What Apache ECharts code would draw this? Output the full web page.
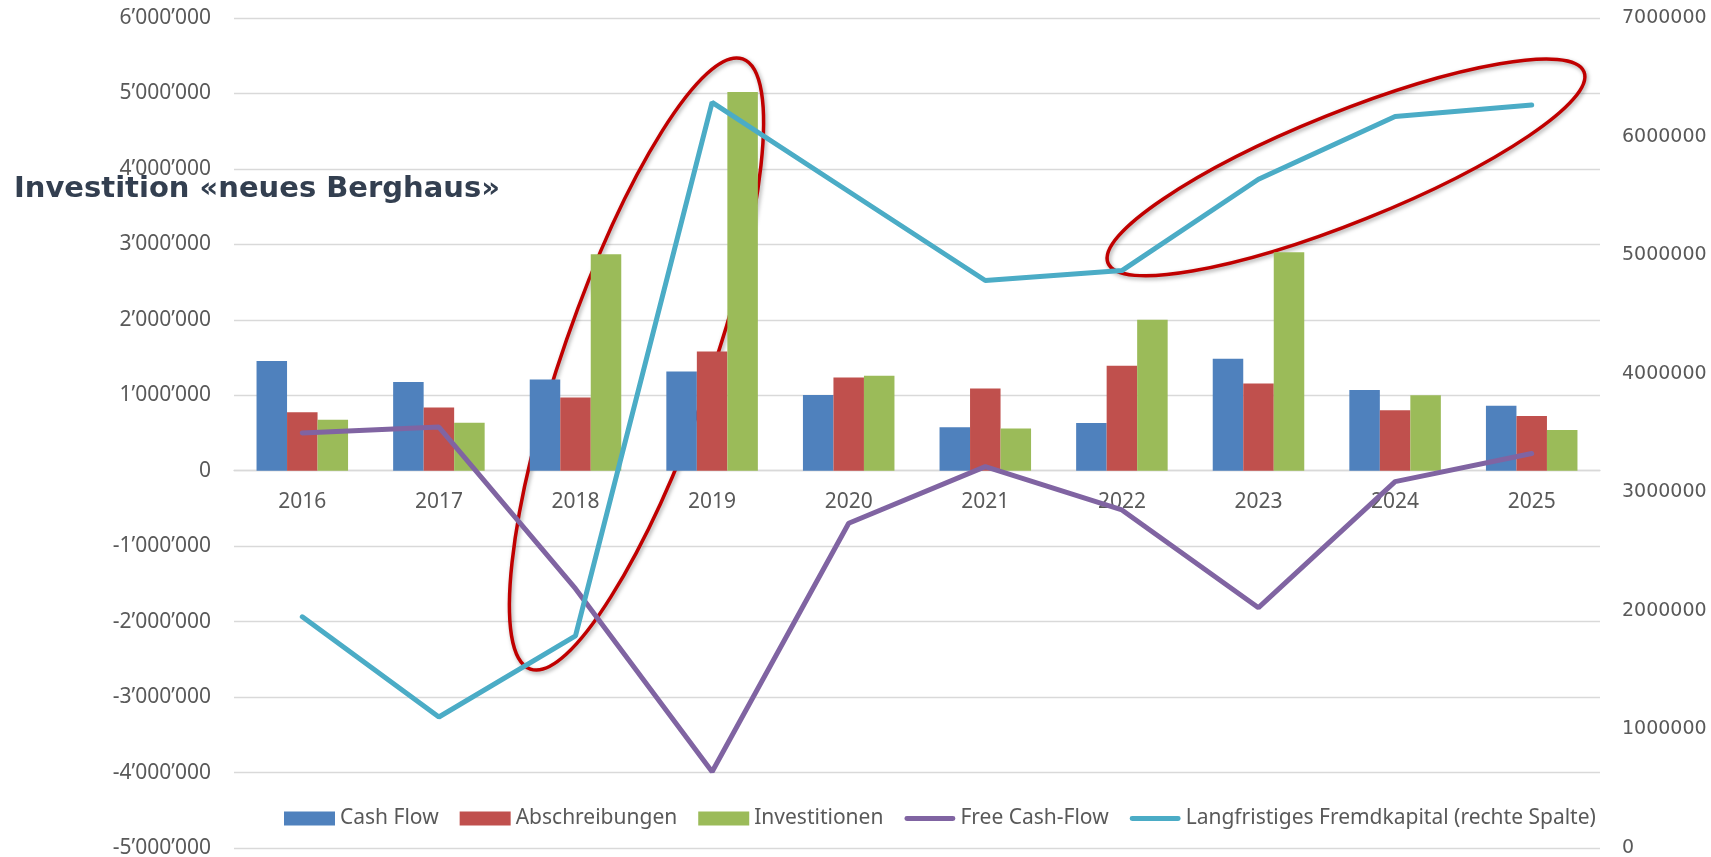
<!DOCTYPE html>
<html>
<head>
<meta charset="utf-8">
<script src="https://cdn.jsdelivr.net/npm/echarts@6/dist/echarts.min.js"></script>
<style>
  html, body { margin: 0; padding: 0; background: #fff; }
  #chart { width: 1711px; height: 857px; }
</style>
</head>
<body>
<div id="chart"></div>
<script>
const years = ['2016', '2017', '2018', '2019', '2020', '2021', '2022', '2023', '2024', '2025'];
const cashFlow = [1453000, 1175000, 1208000, 1315000, 1005000, 576000, 633000, 1483000, 1070000, 860000];
const abschreibungen = [776000, 837000, 970000, 1580000, 1235000, 1090000, 1390000, 1156000, 800000, 726000];
const investitionen = [677000, 635000, 2870000, 5020000, 1260000, 558000, 2000000, 2896000, 1000000, 540000];
const freeCashFlow = [500000, 578000, -1564000, -3990000, -696000, 55000, -520000, -1815000, -145000, 229000];
const fremdkapital = [1950000, 1105000, 1789000, 6288000, 5537000, 4786000, 4870000, 5640000, 6170000, 6266000];

const grey = '#595959';
const gridTop = 18;
const gridBottom = 9;
const plotH = 857 - gridTop - gridBottom;

// thousands with a typographic apostrophe, like the original
function swiss(v) {
  const s = Math.abs(v).toString().replace(/\B(?=(\d{3})+(?!\d))/g, '\u2019');
  return (v < 0 ? '-' : '') + s;
}

// thick rounded stroke as legend icon for the two lines
const lineIcon = 'path://M0,0 M0,14 M2.5,4.5 L49.5,4.5 A2.5,2.5 0 0 1 49.5,9.5 L2.5,9.5 A2.5,2.5 0 0 1 2.5,4.5 Z';

const chart = echarts.init(document.getElementById('chart'));

const option = {
  animation: false,
  title: {
    text: 'Investition \u00abneues Berghaus\u00bb',
    left: 14,
    top: 175,
    padding: 0,
    textStyle: { fontFamily: 'DejaVu Sans', fontWeight: 'bold', fontSize: 29, color: '#333F50' }
  },
  legend: {
    left: 284,
    top: 808,
    padding: 0,
    itemWidth: 51,
    itemHeight: 14,
    itemGap: 21,
    textStyle: { fontFamily: 'Noto Sans', fontSize: 21, color: grey },
    data: [
      { name: 'Cash Flow', icon: 'rect' },
      { name: 'Abschreibungen', icon: 'rect' },
      { name: 'Investitionen', icon: 'rect' },
      { name: 'Free Cash-Flow', icon: lineIcon },
      { name: 'Langfristiges Fremdkapital (rechte Spalte)', icon: lineIcon }
    ]
  },
  grid: { left: 234, right: 111, top: gridTop, bottom: gridBottom, outerBoundsMode: 'none', containLabel: false },
  xAxis: {
    type: 'category',
    data: years,
    // category axis sits on the zero line of the left axis (5 of 11 steps up)
    offset: -plotH * 5 / 11,
    axisLine: { onZero: false, lineStyle: { color: '#D9D9D9', width: 1.3 } },
    axisTick: { show: false },
    axisLabel: { margin: 21, fontFamily: 'Noto Sans', fontSize: 21, color: grey }
  },
  yAxis: [
    {
      type: 'value',
      min: -5000000,
      max: 6000000,
      interval: 1000000,
      axisLine: { show: false },
      axisTick: { show: false },
      splitLine: { lineStyle: { color: '#D9D9D9', width: 1.3 } },
      axisLabel: { margin: 23, fontFamily: 'Noto Sans', fontSize: 21, color: grey, formatter: swiss }
    },
    {
      type: 'value',
      min: 0,
      max: 7000000,
      interval: 1000000,
      axisLine: { show: false },
      axisTick: { show: false },
      splitLine: { show: false },
      axisLabel: { margin: 22, fontFamily: 'DejaVu Sans', fontSize: 19, color: grey, formatter: v => String(v) }
    }
  ],
  graphic: [
    {
      type: 'ellipse',
      z: 1,
      x: 636.5,
      y: 364,
      rotation: 1.236,
      shape: { cx: 0, cy: 0, rx: 323, ry: 74 },
      style: { fill: null, stroke: '#C00000', lineWidth: 3.5, shadowBlur: 4, shadowColor: 'rgba(0,0,0,0.35)', shadowOffsetX: 1.5, shadowOffsetY: 2 }
    },
    {
      type: 'ellipse',
      z: 1,
      x: 1346,
      y: 167.4,
      rotation: 0.382,
      shape: { cx: 0, cy: 0, rx: 256.5, ry: 55 },
      style: { fill: null, stroke: '#C00000', lineWidth: 3.5, shadowBlur: 4, shadowColor: 'rgba(0,0,0,0.35)', shadowOffsetX: 1.5, shadowOffsetY: 2 }
    }
  ],
  series: [
    {
      name: 'Cash Flow',
      type: 'bar',
      data: cashFlow,
      barGap: '0%',
      barCategoryGap: '33%',
      itemStyle: { color: '#4F81BD' }
    },
    {
      name: 'Abschreibungen',
      type: 'bar',
      data: abschreibungen,
      itemStyle: { color: '#C0504D' }
    },
    {
      name: 'Investitionen',
      type: 'bar',
      data: investitionen,
      itemStyle: { color: '#9BBB59' }
    },
    {
      name: 'Free Cash-Flow',
      type: 'line',
      data: freeCashFlow,
      symbol: 'none',
      z: 3,
      lineStyle: { color: '#8064A2', width: 5, cap: 'round' },
      itemStyle: { color: '#8064A2' }
    },
    {
      name: 'Langfristiges Fremdkapital (rechte Spalte)',
      type: 'line',
      yAxisIndex: 1,
      data: fremdkapital,
      symbol: 'none',
      z: 3,
      lineStyle: { color: '#4BACC6', width: 5, cap: 'round' },
      itemStyle: { color: '#4BACC6' }
    }
  ]
};

chart.setOption(option);
</script>
</body>
</html>
